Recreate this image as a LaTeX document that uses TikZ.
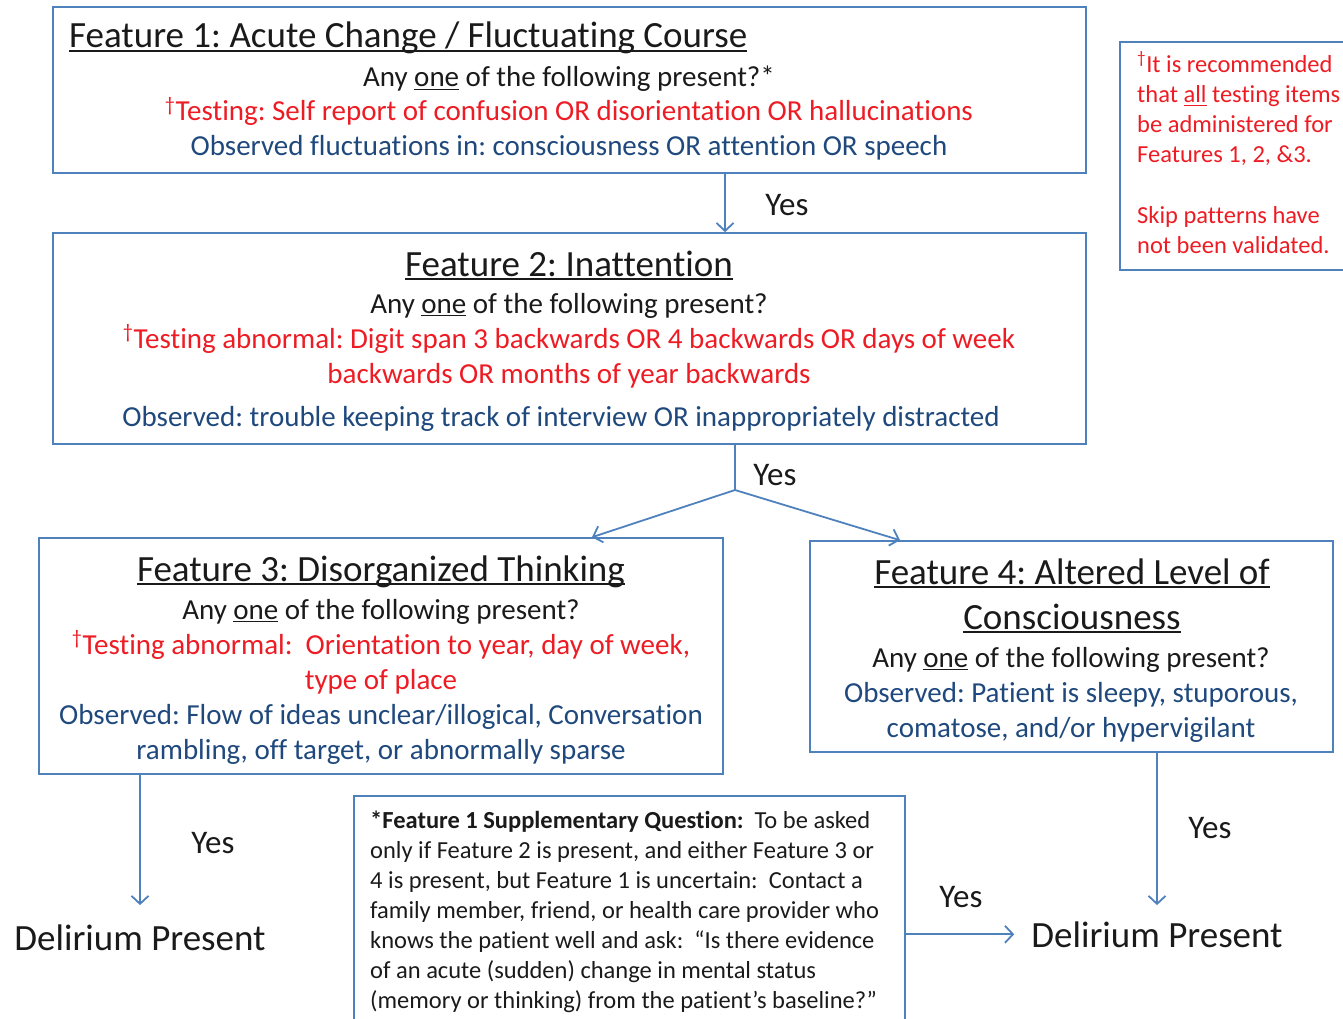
\documentclass[tikz,border=0pt]{standalone}
\usepackage{fontspec}
\setmainfont{Carlito}[Ligatures=NoCommon]
\usetikzlibrary{arrows.meta,calc}
\definecolor{boxblue}{HTML}{4F81BD}
\definecolor{txtred}{HTML}{ED1C24}
\definecolor{txtblue}{HTML}{1F497D}
\definecolor{txtblack}{HTML}{1A1A1A}
\newcommand\myul[1]{\setbox0=\hbox{#1}\rlap{\rule[-0.12em]{\wd0}{0.055em}}\box0\relax}
\newcommand\dg{\textsuperscript{†}}
\frenchspacing
\begin{document}
\begin{tikzpicture}[x=1pt,y=-1pt,
  box/.style={draw=boxblue, line width=1.6pt, rectangle, inner sep=0pt},
  ln/.style={draw=boxblue, line width=1.8pt},
  arr/.style={draw=boxblue, line width=1.8pt, -{Straight Barb[length=8pt,width=17pt]}},
  ttl/.style={font=\fontsize{37}{44}\selectfont, text=txtblack, anchor=base, inner sep=0pt},
  body/.style={font=\fontsize{29}{35}\selectfont, text=txtblack, anchor=base, inner sep=0pt},
  small/.style={font=\fontsize{24.5}{30}\selectfont, text=txtblack, anchor=base west, inner sep=0pt},
  yes/.style={font=\fontsize{33}{40}\selectfont, text=txtblack, inner sep=0pt},
  result/.style={font=\fontsize{37}{44}\selectfont, text=txtblack, anchor=base, inner sep=0pt},
]
\useasboundingbox (0,0) rectangle (1343,1019);
\clip (0,0) rectangle (1343,1019);

% boxes
\node[box, minimum width=1033pt, minimum height=166pt] (f1) at (569.5,90) {};
\node[box, minimum width=1033pt, minimum height=211pt] (f2) at (569.5,338.5) {};
\node[box, minimum width=684pt, minimum height=236pt] (f3) at (381,656) {};
\node[box, minimum width=523pt, minimum height=211pt] (f4) at (1071.5,646.5) {};
\node[box, minimum width=242pt, minimum height=228pt] (note) at (1241,156) {};
\node[box, minimum width=551pt, minimum height=244pt] (sup) at (629.5,918) {};

% Feature 1
\node[ttl, anchor=base west] (f1t) at (69,48) {\myul{Feature 1: Acute Change / Fluctuating Course}};
\node[body] (f1a) at (569,87) {Any \myul{one} of the following present?*};
\node[body, text=txtred] (f1b) at (569,121) {\dg Testing: Self report of confusion OR disorientation OR hallucinations};
\node[body, text=txtblue] (f1c) at (569,156) {Observed fluctuations in: consciousness OR attention OR speech};

% Feature 2
\node[ttl] (f2t) at (569,276) {\myul{Feature 2: Inattention}};
\node[body] (f2a) at (569,313) {Any \myul{one} of the following present?};
\node[body, text=txtred] (f2b) at (569,348) {\dg Testing abnormal: Digit span 3 backwards OR 4 backwards OR days of week};
\node[body, text=txtred] (f2c) at (569,383) {backwards OR months of year backwards};
\node[body, text=txtblue] (f2d) at (561,426) {Observed: trouble keeping track of interview OR inappropriately distracted};

% Feature 3
\node[ttl] (f3t) at (381,581) {\myul{Feature 3: Disorganized Thinking}};
\node[body] (f3a) at (381,619) {Any \myul{one} of the following present?};
\node[body, text=txtred] (f3b) at (381,654) {\dg Testing abnormal:\ \ Orientation to year, day of week,};
\node[body, text=txtred] (f3c) at (381,689) {type of place};
\node[body, text=txtblue] (f3d) at (381,724) {Observed: Flow of ideas unclear/illogical, Conversation};
\node[body, text=txtblue] (f3e) at (381,759) {rambling, off target, or abnormally sparse};

% Feature 4
\node[ttl] (f4t) at (1072,584) {\myul{Feature 4: Altered Level of}};
\node[ttl] (f4u) at (1072,629) {\myul{Consciousness}};
\node[body] (f4a) at (1071,667) {Any \myul{one} of the following present?};
\node[body, text=txtblue] (f4b) at (1071,702) {Observed: Patient is sleepy, stuporous,};
\node[body, text=txtblue] (f4c) at (1071,737) {comatose, and/or hypervigilant};

% note
\node[small, text=txtred] (n1) at (1137,73) {\dg It is recommended};
\node[small, text=txtred] (n2) at (1137,103) {that \myul{all} testing items};
\node[small, text=txtred] (n3) at (1137,133) {be administered for};
\node[small, text=txtred] (n4) at (1137,163) {Features 1, 2, \&3.};
\node[small, text=txtred] (n5) at (1137,223) {Skip patterns have};
\node[small, text=txtred] (n6) at (1137,253) {not been validated.};

% supplementary question
\node[small] (s1) at (370,828) {\textbf{*Feature 1 Supplementary Question:}\ \ To be asked};
\node[small] (s2) at (370,858) {only if Feature 2 is present, and either Feature 3 or};
\node[small] (s3) at (370,888) {4 is present, but Feature 1 is uncertain:\ \ Contact a};
\node[small] (s4) at (370,918) {family member, friend, or health care provider who};
\node[small] (s5) at (370,948) {knows the patient well and ask:\ \ “Is there evidence};
\node[small] (s6) at (370,978) {of an acute (sudden) change in mental status};
\node[small] (s7) at (370,1008) {(memory or thinking) from the patient’s baseline?”};

% results
\node[result] (d1) at (140,950) {Delirium Present};
\node[result] (d2) at (1157,947) {Delirium Present};

% yes labels
\node[yes] (y1) at (787,205) {Yes};
\node[yes] (y2) at (775,475) {Yes};
\node[yes] (y3) at (213,843) {Yes};
\node[yes] (y4) at (961,897) {Yes};
\node[yes] (y5) at (1210,828) {Yes};

% connectors
\coordinate (c1) at (725,0);
\draw[arr] (f1.south -| c1) -- (f2.north -| c1);
\coordinate (split) at (735,490);
\coordinate (c3) at (592,0);
\coordinate (c4) at (900,0);
\draw[ln] (f2.south -| split) -- (split);
\draw[arr] (split) -- (f3.north -| c3);
\draw[arr] (split) -- (f4.north -| c4);
\draw[arr, shorten >=19pt] (f3.south -| d1) -- (d1.north);
\draw[arr, shorten >=16pt] (f4.south -| d2) -- (d2.north);
\draw[arr, shorten >=17pt] (sup.east |- d2) -- (d2.west);
\end{tikzpicture}
\end{document}
